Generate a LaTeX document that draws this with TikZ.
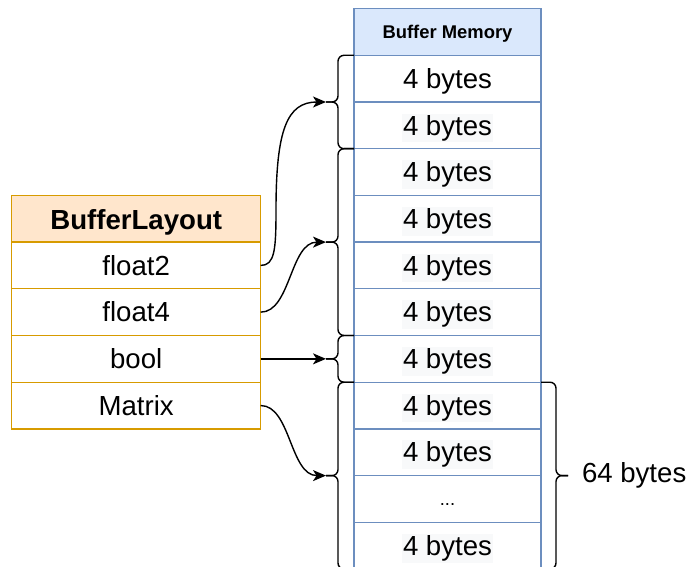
\documentclass[tikz,border=0pt]{standalone}
\usepackage{fontspec}
\setmainfont{Liberation Sans}
\usetikzlibrary{arrows.meta}
\definecolor{memstroke}{HTML}{6C8EBF}
\definecolor{memfill}{HTML}{DAE8FC}
\definecolor{laystroke}{HTML}{D79B00}
\definecolor{layfill}{HTML}{FFE6CC}
\definecolor{txtbg}{HTML}{F8F9FA}
\newcommand{\hlbox}[1]{{\setlength{\fboxsep}{1.5pt}\colorbox{txtbg}{#1}}}
\begin{document}
\begin{tikzpicture}[x=1pt,y=-1pt,
  bigfont/.style={font=\fontsize{27.6}{32}\selectfont},
  memrow/.style={draw=memstroke, fill=white, line width=1.3pt, minimum width=187pt,
    minimum height=46.7pt, inner sep=0pt, outer sep=0pt, text height=22pt, text depth=2.6pt, bigfont},
  memhead/.style={memrow, fill=memfill, text height=14pt, text depth=1.2pt,
    font=\bfseries\fontsize{18.4}{22}\selectfont},
  layrow/.style={draw=laystroke, fill=white, line width=1.3pt, minimum width=249pt,
    minimum height=46.7pt, inner sep=0pt, outer sep=0pt, text height=22pt, text depth=2.6pt, bigfont},
  layhead/.style={layrow, fill=layfill, text height=24pt, text depth=1.5pt,
    font=\bfseries\fontsize{27.6}{32}\selectfont},
  bracepath/.style={draw=black, line width=1.4pt, rounded corners=6pt},
  conn/.style={draw=black, line width=1.4pt, -{Stealth[length=13pt,width=11pt,inset=3.5pt]}},
  note/.style={bigfont, inner sep=0pt, outer sep=0pt}
]
\useasboundingbox (0,0) rectangle (689,567);

% Buffer memory column
\node[memhead] (m0) at (447.5,31.95) {Buffer Memory};
\node[memrow] (m1) at (447.5,78.65) {4 bytes};
\node[memrow] (m2) at (447.5,125.35) {\hlbox{4 bytes}};
\node[memrow] (m3) at (447.5,172.05) {\hlbox{4 bytes}};
\node[memrow] (m4) at (447.5,218.75) {\hlbox{4 bytes}};
\node[memrow] (m5) at (447.5,265.45) {\hlbox{4 bytes}};
\node[memrow] (m6) at (447.5,312.15) {\hlbox{4 bytes}};
\node[memrow] (m7) at (447.5,358.85) {\hlbox{4 bytes}};
\node[memrow] (m8) at (447.5,405.55) {\hlbox{4 bytes}};
\node[memrow] (m9) at (447.5,452.25) {\hlbox{4 bytes}};
\node[memrow, text height=14pt, text depth=0pt, font=\fontsize{18.4}{22}\selectfont] (m10) at (447.5,498.95) {...};
\node[memrow] (m11) at (447.5,545.65) {\hlbox{4 bytes}};

% Buffer layout table
\node[layhead] (l0) at (136.2,218.75) {BufferLayout};
\node[layrow] (l1) at (136.2,265.45) {float2};
\node[layrow] (l2) at (136.2,312.15) {float4};
\node[layrow] (l3) at (136.2,358.85) {bool};
\node[layrow] (l4) at (136.2,405.55) {Matrix};

% left braces
\coordinate (b1) at (326,102);
\coordinate (b2) at (326,242.1);
\coordinate (b3) at (326,358.85);
\coordinate (b4) at (326,475.6);
\draw[bracepath] (m1.north west) -- ++(-16,0) |- (b1);
\draw[bracepath] (m2.south west) -- ++(-16,0) |- (b1);
\draw[bracepath] (m3.north west) -- ++(-16,0) |- (b2);
\draw[bracepath] (m6.south west) -- ++(-16,0) |- (b2);
\draw[bracepath] (m7.north west) -- ++(-16,0) |- (b3);
\draw[bracepath] (m7.south west) -- ++(-16,0) |- (b3);
\draw[bracepath] (m8.north west) -- ++(-16,0) |- (b4);
\draw[bracepath] (m11.south west) -- ++(-16,0) |- (b4);

% right brace
\coordinate (br) at (568,475.6);
\draw[bracepath] (m8.north east) -- ++(15,0) |- (br);
\draw[bracepath] (m11.south east) -- ++(15,0) |- (br);
\node[note, anchor=west] (lbl) at (582,475.6) {64 bytes};

% connectors
\coordinate (k1) at (276,210);
\draw[conn] (l1.east) .. controls +(14,0) and +(0,40) .. (k1) .. controls +(0,-80) and +(-39,0) .. (b1);
\draw[conn] (l2.east) .. controls +(30,0) and +(-36,0) .. (b2);
\draw[conn] (l3.east) -- (b3);
\draw[conn] (l4.east) .. controls +(30,0) and +(-36,0) .. (b4);
\end{tikzpicture}
\end{document}
